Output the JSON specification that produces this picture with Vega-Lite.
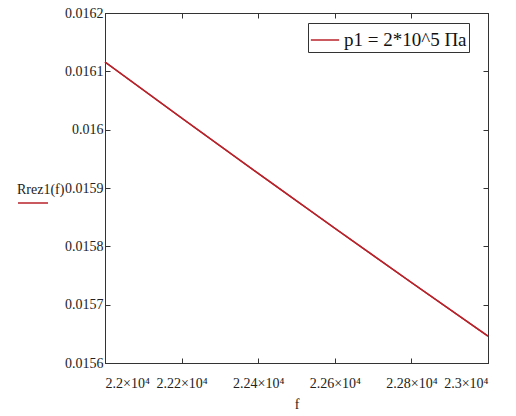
{
  "$schema": "https://vega.github.io/schema/vega-lite/v6.json",
  "width": 383,
  "height": 350,
  "autosize": "none",
  "padding": {"left": 105, "top": 13, "right": 28, "bottom": 53},
  "background": "white",
  "config": {
    "view": {"stroke": "#333333", "strokeWidth": 1},
    "font": "Liberation Serif",
    "style": {
      "guide-label": {"font": "Liberation Serif", "fontSize": 13, "fill": "#222222"},
      "guide-title": {"font": "Liberation Serif", "fontSize": 14, "fontWeight": "normal", "fill": "#222222"}
    },
    "axis": {
      "grid": false,
      "domainColor": "#333333",
      "tickColor": "#333333",
      "labelColor": "#222222",
      "labelFont": "Liberation Serif",
      "labelFontSize": 13,
      "tickSize": -5,
      "titleFont": "Liberation Serif",
      "titleFontWeight": "normal",
      "titleColor": "#222222"
    }
  },
  "data": {
    "values": [
      {"f": 22000, "R": 0.016116, "series": "p1 = 2*10^5 Па", "fn": "Rrez1(f)"},
      {"f": 22200, "R": 0.016020, "series": "p1 = 2*10^5 Па", "fn": "Rrez1(f)"},
      {"f": 22400, "R": 0.015925, "series": "p1 = 2*10^5 Па", "fn": "Rrez1(f)"},
      {"f": 22600, "R": 0.015831, "series": "p1 = 2*10^5 Па", "fn": "Rrez1(f)"},
      {"f": 22800, "R": 0.015738, "series": "p1 = 2*10^5 Па", "fn": "Rrez1(f)"},
      {"f": 23000, "R": 0.015646, "series": "p1 = 2*10^5 Па", "fn": "Rrez1(f)"}
    ]
  },
  "layer": [
    {
      "mark": {"type": "line", "strokeWidth": 1.5},
      "encoding": {
        "x": {
          "field": "f", "type": "quantitative",
          "scale": {"domain": [22000, 23000], "nice": false, "zero": false},
          "axis": {
            "values": [22000, 22200, 22400, 22600, 22800, 23000],
            "labelExpr": "format(datum.value/10000, '~g') + '×10⁴'",
            "labelFont": "Liberation Serif",
            "labelFontSize": 14,
            "labelColor": "#222222",
            "labelPadding": 18,
            "title": "f",
            "titleFont": "Liberation Serif",
            "titleFontSize": 14,
            "titlePadding": 7
          }
        },
        "y": {
          "field": "R", "type": "quantitative",
          "scale": {"domain": [0.0156, 0.0162], "nice": false, "zero": false},
          "axis": {
            "values": [0.0156, 0.0157, 0.0158, 0.0159, 0.016, 0.0161, 0.0162],
            "labelExpr": "format(datum.value, '.4~f')",
            "labelFont": "Liberation Serif",
            "labelFontSize": 14,
            "labelColor": "#222222",
            "labelPadding": 7,
            "title": null
          }
        },
        "color": {
          "field": "series", "type": "nominal",
          "scale": {"range": ["#b8232b"]},
          "legend": {
            "title": null,
            "orient": "none",
            "legendX": 203,
            "legendY": 10,
            "strokeColor": "#333333",
            "fillColor": "white",
            "padding": 2,
            "symbolType": "stroke",
            "symbolSize": 800,
            "symbolStrokeWidth": 1.5,
            "labelFont": "Liberation Serif",
            "labelFontSize": 19,
            "labelColor": "#111111",
            "labelLimit": 300
          }
        }
      }
    },
    {
      "mark": {"type": "line", "strokeWidth": 1.5, "color": "#b8232b"},
      "encoding": {
        "x": {
          "field": "f", "type": "quantitative",
          "axis": {"orient": "top", "labels": false, "title": null, "values": [22000, 22200, 22400, 22600, 22800, 23000]}
        },
        "y": {
          "field": "R", "type": "quantitative",
          "axis": {"orient": "right", "labels": false, "title": null, "values": [0.0156, 0.0157, 0.0158, 0.0159, 0.016, 0.0161, 0.0162]}
        },
        "strokeDash": {
          "field": "fn", "type": "nominal",
          "scale": {"range": [[1, 0]]},
          "legend": {
            "title": "Rrez1(f)",
            "titleFont": "Liberation Serif",
            "titleFontSize": 14,
            "titleFontWeight": "normal",
            "titleColor": "#222222",
            "titlePadding": -10,
            "labelExpr": "''",
            "labelFontSize": 2,
            "orient": "none",
            "legendX": -88,
            "legendY": 170,
            "symbolType": "stroke",
            "symbolStrokeColor": "#b8232b",
            "symbolSize": 900,
            "symbolStrokeWidth": 1.5,
            "padding": 0
          }
        }
      }
    }
  ],
  "resolve": {"axis": {"x": "independent", "y": "independent"}}
}
